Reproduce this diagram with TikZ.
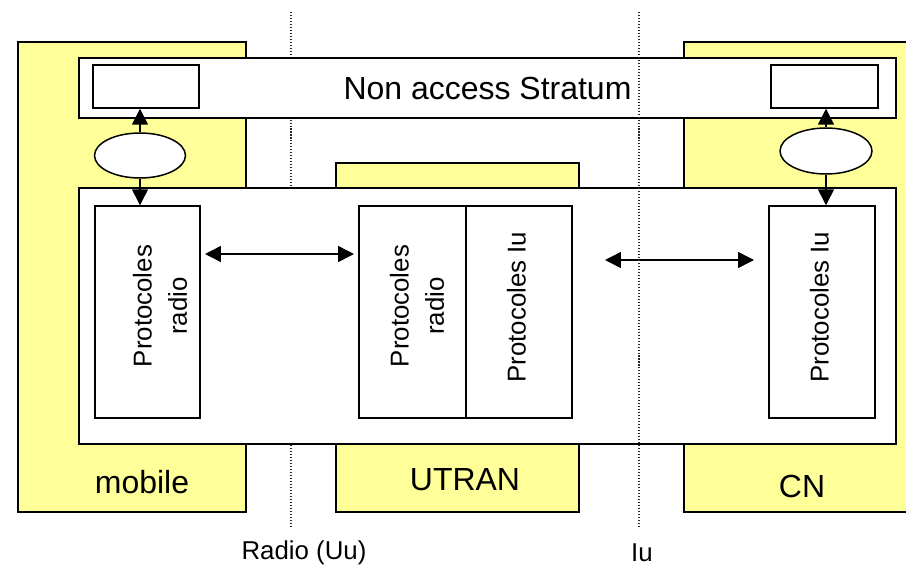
\documentclass[tikz,border=0pt]{standalone}
\usepackage{fontspec}
\setmainfont{Liberation Sans}
\usetikzlibrary{arrows.meta,shapes.geometric}
\definecolor{amarillo}{HTML}{FFFF99}

\begin{document}
\begin{tikzpicture}[x=0.02cm, y=-0.02cm,
    zona/.style={fill=amarillo, draw=black, line width=0.8pt},
    caja/.style={draw=black, fill=white, line width=0.85pt, inner sep=0pt},
    grande/.style={font=\fontsize{18.2}{21}\selectfont},
    chica/.style={font=\fontsize{14.7}{20}\selectfont},
    flecha/.style={line width=0.85pt, -{Triangle[length=9pt,width=9pt]}},
    doble/.style={line width=0.85pt, {Triangle[length=9pt,width=9pt]}-{Triangle[length=9pt,width=9pt]}},
    punteada/.style={black!85, line width=0.6pt, dash pattern=on 0.6pt off 1.1pt}]
        \useasboundingbox (0,0) rectangle (906,565);

        % Zonas amarillas (mobile, UTRAN, CN)
        \filldraw[zona] (18,42) rectangle (246,512);
        \filldraw[zona] (336,163) rectangle (579,512);
        \filldraw[zona] (684,42) rectangle (930,512);

        % Interfaz radio (detrás de las cajas)
        \draw[punteada] (291,12) -- (291,526);

        % Non access Stratum y bloque de protocolos
        \node[caja, grande, minimum width=16.34cm, minimum height=1.2cm] (nas) at (487.5,88) {Non access Stratum};
        \filldraw[caja] (79,188) rectangle (896,444);

        % Cajitas del NAS
        \node[caja, minimum width=2.12cm, minimum height=0.86cm] (nasL) at (146,86.5) {};
        \node[caja, minimum width=2.14cm, minimum height=0.86cm] (nasR) at (824.5,86.5) {};

        % Elipses
        \node[caja, ellipse, minimum width=1.82cm, minimum height=0.9cm] (ellL) at (140,155.5) {};
        \node[caja, ellipse, minimum width=1.84cm, minimum height=0.92cm] (ellR) at (826,151) {};

        % Cajas de protocolos
        \node[caja, minimum width=2.1cm, minimum height=4.24cm] (protL) at (147.5,312) {};
        \node[caja, minimum width=2.14cm, minimum height=4.24cm] (protC1) at (412.5,312) {};
        \node[caja, minimum width=2.12cm, minimum height=4.24cm] (protC2) at (519,312) {};
        \node[caja, minimum width=2.12cm, minimum height=4.24cm] (protR) at (822,312) {};

        \node[chica, rotate=90, align=center] (txtL) at (160,306) {Protocoles\\radio};
        \node[chica, rotate=90, align=center] (txtC1) at (417,306) {Protocoles\\radio};
        \node[chica, rotate=90] (txtC2) at (516.5,307) {Protocoles Iu};
        \node[chica, rotate=90] (txtR) at (819.5,307) {Protocoles Iu};

        % Flechas verticales
        \draw[flecha] (ellL.north) -- (ellL.north |- nasL.south);
        \draw[flecha] (ellL.south) -- (ellL.south |- protL.north);
        \draw[flecha] (ellR.north) -- (ellR.north |- nasR.south);
        \draw[flecha] (ellR.south) -- (ellR.south |- protR.north);

        % Flechas horizontales
        \coordinate (uuA) at (205,254);
        \coordinate (uuB) at (354,254);
        \coordinate (iuA) at (605,260);
        \coordinate (iuB) at (754,260);
        \draw[doble] (uuA) -- (uuB);
        \draw[doble] (iuA) -- (iuB);

        % Interfaz Iu (delante de las cajas)
        \draw[punteada] (639,12) -- (639,526);

        % Etiquetas
        \node[grande] (mobile) at (142,482) {mobile};
        \node[grande] (utran) at (465,480) {UTRAN};
        \node[grande] (cn) at (802,486) {CN};
        \node[chica] (radio) at (304,552.5) {Radio (Uu)};
        \node[chica] (iu) at (642,553) {Iu};
    \end{tikzpicture}
\end{document}
